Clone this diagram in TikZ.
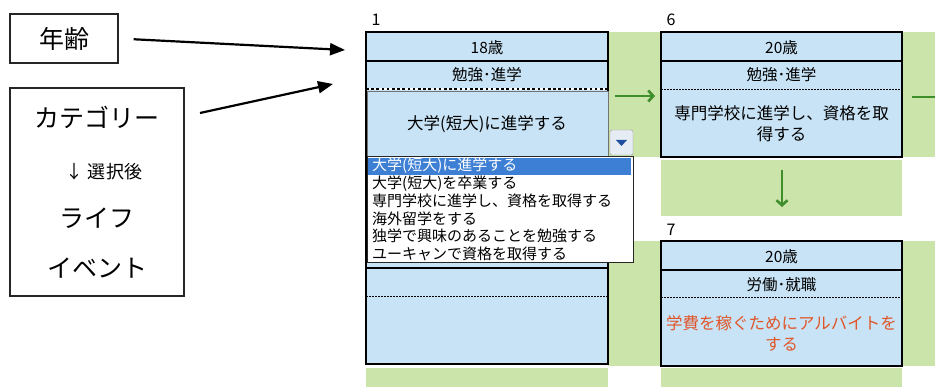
\documentclass[tikz,border=0pt]{standalone}
\usepackage{fontspec}
\setmainfont{Noto Sans CJK JP}
\usetikzlibrary{arrows.meta}
\definecolor{cblue}{HTML}{C8E3F5}
\definecolor{cgreen}{HTML}{CBE4AA}
\definecolor{agreen}{HTML}{3E8E2C}
\definecolor{hblue}{HTML}{3C7FD4}
\definecolor{tred}{HTML}{E0562A}
\definecolor{btnfill}{HTML}{E6ECF3}
\definecolor{tri}{HTML}{1F4E9E}
\begin{document}
\begin{tikzpicture}[x=1pt,y=-1pt,
  leftbox/.style={draw=black!85, line width=1.4pt, inner sep=0pt},
  bigtext/.style={font=\fontsize{25}{28}\selectfont},
  bigarrow/.style={line width=2.2pt, -{Triangle[length=15pt,width=12pt]}},
  cardborder/.style={draw=black, line width=1.8pt},
  sepline/.style={line width=1.1pt},
  dotline/.style={line width=1pt, dash pattern=on 1.5pt off 1.5pt},
  hdr/.style={font=\fontsize{15.5}{18}\selectfont},
  body/.style={font=\fontsize{16.5}{21}\selectfont, align=center},
  listtext/.style={anchor=west, font=\fontsize{15}{16}\selectfont, inner sep=0pt},
  lbl/.style={font=\fontsize{16}{18}\selectfont},
  garrow/.style={draw=agreen, line width=2.6pt, -{Straight Barb[length=5pt,width=11pt]}}
]
\useasboundingbox (0,0) rectangle (935,387);

% green backgrounds
\fill[cgreen] (608,32) rectangle (661,157);
\fill[cgreen] (902,32) rectangle (935,157);
\fill[cgreen] (661,160) rectangle (902,216);
\fill[cgreen] (608,241) rectangle (661,366);
\fill[cgreen] (902,241) rectangle (935,366);
\fill[cgreen] (366,368) rectangle (608,387);
\fill[cgreen] (661,368) rectangle (902,387);

% left boxes
\node[leftbox, minimum width=108pt, minimum height=49pt, bigtext] (age) at (64,38.5) {年齢};
\node[leftbox, minimum width=174pt, minimum height=208pt] (cat) at (97,192) {};
\node[bigtext] (catA) at (97,117) {カテゴリー};
\node[font=\fontsize{18}{20}\selectfont] (catB) at (104,172) {↓ 選択後};
\node[bigtext] (catC) at (97,218) {ライフ};
\node[bigtext] (catD) at (97,268) {イベント};

% card 1
\node[lbl] (l1) at (376,20) {1};
\fill[cblue] (366,32) rectangle (608,364);
\draw[cardborder] (366,32) rectangle (608,364);
\draw[sepline] (366,61) -- (608,61);
\draw[white, line width=2.6pt] (366,89) -- (608,89);
\draw[black, line width=2.6pt, dash pattern=on 2.6pt off 2.6pt] (366,89) -- (608,89);
\draw[fill=cblue, draw=black!55, line width=0.8pt] (367,91) rectangle (608,156);
\node[hdr] (c1a) at (487,48) {18歳};
\node[hdr] (c1b) at (487,75) {勉強･進学};
\node[body] (c1c) at (487,124) {大学(短大)に進学する};
\draw[line width=1.6pt] (366,268) -- (608,268);
\draw[dotline] (366,297) -- (608,297);

% dropdown button
\node[draw=black!40, fill=btnfill, rounded corners=2pt, minimum width=23pt, minimum height=25pt, inner sep=0pt] (btn) at (621.5,142.5) {};
\fill[tri] (616,140) -- (627,140) -- (621.5,146) -- cycle;

% dropdown list
\draw[fill=white, draw=black!85, line width=1pt] (367,157) rectangle (633,263);
\fill[hblue] (368,158) rectangle (631,175);
\node[listtext, text=white] (o1) at (372,166) {大学(短大)に進学する};
\node[listtext] (o2) at (372,183.5) {大学(短大)を卒業する};
\node[listtext] (o3) at (372,201) {専門学校に進学し、資格を取得する};
\node[listtext] (o4) at (372,218.5) {海外留学をする};
\node[listtext] (o5) at (372,236) {独学で興味のあることを勉強する};
\node[listtext] (o6) at (372,253.5) {ユーキャンで資格を取得する};

% card 6
\node[lbl] (l6) at (671,20) {6};
\fill[cblue] (661,32) rectangle (902,157);
\draw[cardborder] (661,32) rectangle (902,157);
\draw[sepline] (661,61) -- (902,61);
\draw[dotline] (661,90) -- (902,90);
\node[hdr] (c6a) at (781.5,48) {20歳};
\node[hdr] (c6b) at (781.5,75) {勉強･進学};
\node[body] (c6c) at (781.5,124) {専門学校に進学し、資格を取\\得する};

% card 7
\node[lbl] (l7) at (671,230) {7};
\fill[cblue] (661,241) rectangle (902,366);
\draw[cardborder] (661,241) rectangle (902,366);
\draw[sepline] (661,270) -- (902,270);
\draw[dotline] (661,298) -- (902,298);
\node[hdr] (c7a) at (781.5,257) {20歳};
\node[hdr] (c7b) at (781.5,285) {労働･就職};
\node[body, text=tred] (c7c) at (781.5,333) {学費を稼ぐためにアルバイトを\\する};

% black arrows
\coordinate (a1e) at (345,50);
\coordinate (a2s) at (200,113);
\coordinate (a2e) at (333,84);
\draw[bigarrow, shorten <=15pt] (age.east) -- (a1e);
\draw[bigarrow] (a2s) -- (a2e);

% green arrows
\coordinate (g1s) at (615,96);
\coordinate (g1e) at (655,96);
\draw[garrow] (g1s) -- (g1e);
\coordinate (g2s) at (912,97);
\coordinate (g2e) at (935,97);
\draw[draw=agreen, line width=2.6pt] (g2s) -- (g2e);
\coordinate (g3s) at (782,170);
\coordinate (g3e) at (782,207);
\draw[garrow] (g3s) -- (g3e);
\end{tikzpicture}
\end{document}
